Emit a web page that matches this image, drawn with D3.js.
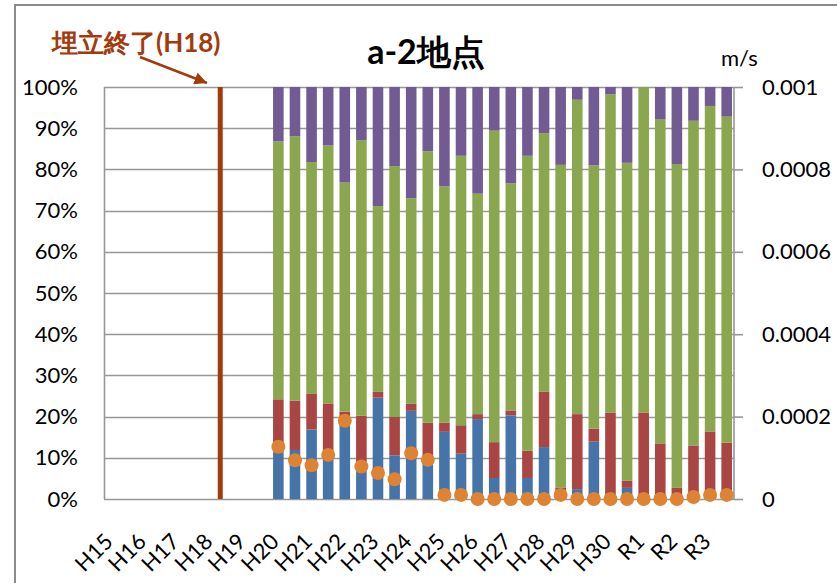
<!DOCTYPE html>
<html>
<head>
<meta charset="utf-8">
<script src="https://cdn.jsdelivr.net/npm/d3@7"></script>
<style>
  html, body { margin: 0; padding: 0; background: #fff; }
  svg { display: block; }
  text { font-family: Lato, "Noto Sans", sans-serif; fill: #000; }
</style>
</head>
<body>
<svg id="chart" width="837" height="583"></svg>
<script>
// Survey years on the x axis; each year holds two sampling rounds
const years = ["H15","H16","H17","H18","H19","H20","H21","H22","H23","H24","H25","H26","H27","H28","H29","H30","R1","R2","R3"];
const firstYear = "H20";   // measurements start here

// Share of each fraction (%), one entry per round from H20 onward
const blue   = [11.3,11.9,16.9,10.5,18.5, 7.5,24.6,10.6,21.4, 9.0,16.3,11.0,19.4, 5.1,20.3, 5.1,12.6, 0.0, 2.4,13.9, 0.0, 2.7, 0.0, 0.0, 0.0, 0.0, 0.0, 0.0];
const red    = [12.9,12.0, 8.6,12.7, 2.7,12.7, 1.4, 9.3, 1.7, 9.5, 2.2, 6.9, 1.2, 8.7, 1.2, 6.6,13.4, 2.8,18.2, 3.2,21.0, 1.8,21.0,13.5, 2.7,13.0,16.4,13.7];
const green  = [62.6,64.1,56.3,62.6,55.6,66.9,45.1,60.9,49.9,65.9,57.4,65.4,53.5,75.6,55.1,71.6,62.8,78.3,76.3,63.9,77.2,77.1,79.0,78.6,78.6,78.8,79.0,79.1];
const purple = [13.2,12.0,18.2,14.2,23.2,12.9,28.9,19.2,27.0,15.6,24.1,16.7,25.9,10.6,23.4,16.7,11.2,18.9, 3.1,19.0, 1.8,18.4, 0.0, 7.9,18.7, 8.2, 4.6, 7.2];

// Velocity (m/s) on the secondary axis
const speed  = [0.000127,0.000094,0.000082,0.000107,0.000190,0.000079,0.000063,0.000048,0.000111,0.000095,
                0.000010,0.000010,0,0,0,0,0,0.000010,0,0,
                0,0,0,0,0,0.000005,0.000010,0.000010];

const leftTicks  = [0,0.1,0.2,0.3,0.4,0.5,0.6,0.7,0.8,0.9,1.0];
const rightTicks = [0,0.0002,0.0004,0.0006,0.0008,0.001];

const title = "a-2地点";
const unit = "m/s";
const note = "埋立終了(H18)";
const noteYear = "H18";

const colors = { blue: "#4674a9", red: "#a94543", green: "#8aa64e", purple: "#725b92", dot: "#de8334", note: "#a33a0c" };

// ---- layout
const plot = { left: 104, right: 735, top: 87, bottom: 499 };
const tickFont = 22;

const slots = years.flatMap(y => [y + "-1", y + "-2"]);
const x = d3.scaleBand().domain(slots).range([plot.left, plot.right]).padding(0);
const sw = x.bandwidth();
const bw = 10.6;
const y = d3.scaleLinear().domain([0, 1]).range([plot.bottom, plot.top]);
const y2 = d3.scaleLinear().domain([0, 0.001]).range([plot.bottom, plot.top]);

const start = slots.indexOf(firstYear + "-1");
const rows = blue.map((b, i) => ({
  slot: slots[start + i], blue: b / 100, red: red[i] / 100, green: green[i] / 100, purple: purple[i] / 100, speed: speed[i]
}));

const svg = d3.select("#chart");

// outer frame
svg.append("rect").attr("x", 15).attr("y", 5).attr("width", 840).attr("height", 600)
  .attr("fill", "none").attr("stroke", "#8c8c8c").attr("stroke-width", 2);

// horizontal gridlines
svg.append("g").selectAll("line").data(leftTicks).join("line")
  .attr("x1", plot.left).attr("x2", plot.right - 1)
  .attr("y1", d => Math.round(y(d)) + 0.5).attr("y2", d => Math.round(y(d)) + 0.5)
  .attr("stroke", "#979797").attr("stroke-width", 1.6);

// stacked bars
const keys = ["blue", "red", "green", "purple"];
const stack = d3.stack().keys(keys)(rows);
svg.append("g").selectAll("g").data(stack).join("g")
  .attr("fill", d => colors[d.key])
  .selectAll("rect").data(d => d).join("rect")
  .attr("x", d => x(d.data.slot) + (sw - bw) / 2)
  .attr("width", bw)
  .attr("y", d => y(d[1]))
  .attr("height", d => Math.max(0, y(d[0]) - y(d[1])));

// axis lines
svg.append("line").attr("x1", plot.left + 0.5).attr("x2", plot.left + 0.5)
  .attr("y1", plot.top).attr("y2", plot.bottom).attr("stroke", "#979797").attr("stroke-width", 1.6);
svg.append("line").attr("x1", plot.right - 1).attr("x2", plot.right - 1)
  .attr("y1", plot.top).attr("y2", plot.bottom).attr("stroke", "#979797").attr("stroke-width", 1.6);

// left axis labels
const axL = svg.append("g").attr("transform", `translate(${plot.left},0)`)
  .call(d3.axisLeft(y).tickValues(leftTicks).tickSize(0).tickPadding(26).tickFormat(d => Math.round(d * 100) + "%"));
axL.select(".domain").remove();
axL.selectAll("text").attr("font-size", tickFont).attr("font-family", "Lato, sans-serif");

// right axis (velocity)
const axR = svg.append("g").attr("transform", `translate(${plot.right - 1},0)`)
  .call(d3.axisRight(y2).tickValues(rightTicks).tickSize(9).tickPadding(19)
    .tickFormat(d => d === 0 ? "0" : String(+d.toFixed(4))));
axR.select(".domain").remove();
axR.selectAll("line").attr("stroke", "#979797").attr("stroke-width", 1.6);
axR.selectAll("text").attr("font-size", tickFont).attr("font-family", "Lato, sans-serif");

// year labels, one per year, rotated
svg.append("g").selectAll("text").data(years).join("text")
  .attr("transform", d => `translate(${x(d + "-1") + sw / 2 + 2},543) rotate(-45)`)
  .attr("text-anchor", "end")
  .attr("font-size", tickFont)
  .text(d => d);

// landfill completion marker
const nx = x(noteYear + "-2");
svg.append("line").attr("x1", nx).attr("x2", nx).attr("y1", plot.top).attr("y2", plot.bottom)
  .attr("stroke", colors.note).attr("stroke-width", 5);

// velocity points
svg.append("g").selectAll("circle").data(rows).join("circle")
  .attr("cx", d => x(d.slot) + sw / 2)
  .attr("cy", d => y2(d.speed))
  .attr("r", 7)
  .attr("fill", colors.dot);

// annotation text and arrow
svg.append("defs").append("marker").attr("id", "arrowhead")
  .attr("viewBox", "0 0 10 10").attr("refX", 10).attr("refY", 5)
  .attr("markerWidth", 5).attr("markerHeight", 5).attr("orient", "auto")
  .append("path").attr("d", "M0,0 L10,5 L0,10 Z").attr("fill", colors.note);
svg.append("text").attr("x", 52).attr("y", 52)
  .attr("font-family", "'Noto Sans CJK JP', sans-serif").attr("font-weight", 700)
  .attr("font-size", 26).style("fill", colors.note).text(note);
svg.append("line").attr("x1", 140).attr("y1", 57).attr("x2", 207).attr("y2", 83)
  .attr("stroke", colors.note).attr("stroke-width", 2.5).attr("marker-end", "url(#arrowhead)");

// title and unit
svg.append("text").attr("x", 426).attr("y", 64).attr("text-anchor", "middle")
  .attr("font-family", "'Noto Sans CJK JP', sans-serif").attr("font-weight", 700)
  .attr("font-size", 34).text(title);
svg.append("text").attr("x", 721).attr("y", 66)
  .attr("font-size", 22).text(unit);
</script>
</body>
</html>
